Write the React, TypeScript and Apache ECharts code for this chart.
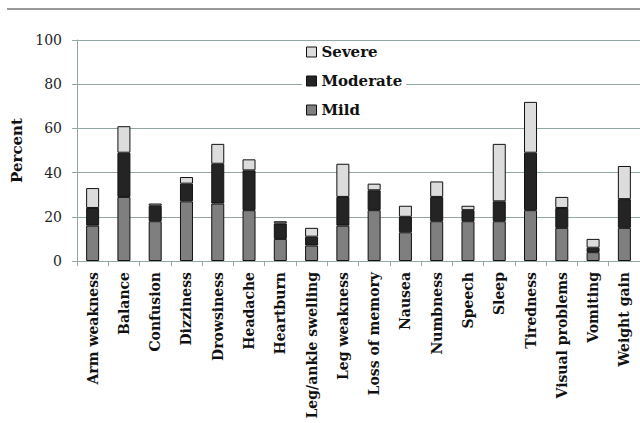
import React, { useEffect, useRef } from "react";
import * as echarts from "echarts";

const categories = [
  "Arm weakness", "Balance", "Confusion", "Dizziness", "Drowsiness", "Headache",
  "Heartburn", "Leg/ankle swelling", "Leg weakness", "Loss of memory", "Nausea",
  "Numbness", "Speech", "Sleep", "Tiredness", "Visual problems", "Vomiting", "Weight gain",
];
const mild = [16, 29, 18, 27, 26, 23, 10, 7, 16, 23, 13, 18, 18, 18, 23, 15, 4, 15];
const moderate = [8, 20, 7, 8, 18, 18, 7, 4, 13, 9, 7, 11, 5, 9, 26, 9, 2, 13];
const severe = [9, 12, 1, 3, 9, 5, 1, 4, 15, 3, 5, 7, 2, 26, 23, 5, 4, 15];
const yTicks = [0, 20, 40, 60, 80, 100];

const AXIS_COLOR = "#93a6a6";
const FONT = "DejaVu Serif";

export default function App() {
  const ref = useRef<HTMLDivElement>(null);
  useEffect(() => {
    if (!ref.current) return;
    const chart = echarts.init(ref.current, null, { renderer: "svg" });
    const mk = (name: string, data: number[], color: string) => ({
      name,
      type: "bar",
      stack: "total",
      data,
      barWidth: 13,
      itemStyle: { color, borderColor: "#111", borderWidth: 1 },
    });
    chart.setOption({
      animation: false,
      backgroundColor: "#fff",
      graphic: [
        {
          type: "line",
          shape: { x1: 7, y1: 9, x2: 640, y2: 9 },
          style: { stroke: "#999", lineWidth: 2 },
        },
      ],
      grid: { left: 77, right: 0, top: 40, bottom: 162, containLabel: false },
      legend: {
        orient: "vertical",
        left: 302,
        top: 43,
        icon: "rect",
        data: ["Severe", "Moderate", "Mild"],
        itemWidth: 10,
        itemHeight: 10,
        itemGap: 11,
        padding: [0, 4, 0, 4],
        backgroundColor: "#fff",
        itemStyle: { borderColor: "#111", borderWidth: 1 },
        textStyle: { fontFamily: FONT, fontWeight: "bold", fontSize: 15, color: "#111", lineHeight: 18 },
      },
      xAxis: {
        type: "category",
        data: categories,
        axisLine: { lineStyle: { color: AXIS_COLOR, width: 1 } },
        axisTick: { show: true, length: 5, lineStyle: { color: AXIS_COLOR } },
        axisLabel: {
          interval: 0,
          rotate: 90,
          margin: 11,
          fontFamily: FONT,
          fontWeight: "bold",
          fontSize: 14,
          color: "#111",
        },
      },
      yAxis: {
        type: "value",
        min: yTicks[0],
        max: yTicks[yTicks.length - 1],
        interval: 20,
        name: "Percent",
        nameLocation: "middle",
        nameRotate: 90,
        nameGap: 44,
        nameTextStyle: { fontFamily: FONT, fontWeight: "bold", fontSize: 15, color: "#111" },
        axisLine: { show: true, lineStyle: { color: AXIS_COLOR, width: 1 } },
        axisTick: { show: true, length: 5, lineStyle: { color: AXIS_COLOR } },
        splitLine: { show: true, lineStyle: { color: AXIS_COLOR, width: 1 } },
        axisLabel: { margin: 15, fontFamily: FONT, fontSize: 14, color: "#222" },
      },
      series: [
        mk("Mild", mild, "#7f7f7f"),
        mk("Moderate", moderate, "#242424"),
        mk("Severe", severe, "#dcdcdc"),
      ],
    });
    return () => chart.dispose();
  }, []);
  return (
    <div
      ref={ref}
      style={{ position: "fixed", left: 0, top: 0, width: 640, height: 423 }}
    />
  );
}
